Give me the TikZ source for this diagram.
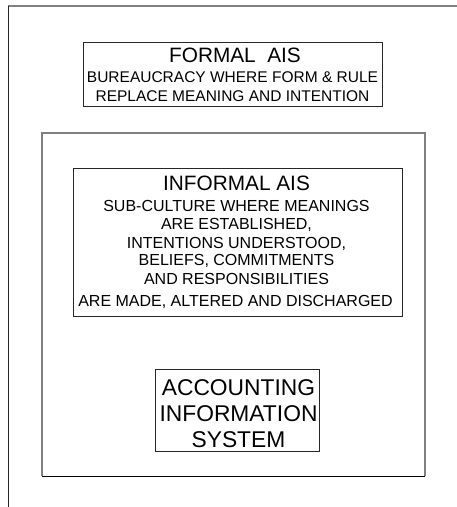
\documentclass[tikz,border=0pt]{standalone}
\usepackage{fontspec}
\setmainfont{Liberation Sans}
\begin{document}
\begin{tikzpicture}[x=1pt,y=-1pt,
  frameline/.style={line width=1.5pt,draw=black!50},
  boxline/.style={line width=0.9pt,draw=black!85},
  boxnode/.style={boxline,rectangle,inner sep=0pt,anchor=north west},
  titletext/.style={anchor=base,inner sep=0pt,font=\fontsize{20.8}{24}\selectfont},
  smalltext/.style={anchor=base,inner sep=0pt,font=\fontsize{16}{18}\selectfont},
  formaltext/.style={smalltext,font=\fontsize{15.5}{18}\selectfont},
  bigtext/.style={anchor=base,inner sep=0pt,font=\fontsize{22.8}{26}\selectfont}]
\useasboundingbox (0,0) rectangle (457,507);
% outer frame: top rule and left rule
\coordinate (tl) at (8,6);
\coordinate (tr) at (457,6);
\coordinate (bl) at (8,507);
\draw[frameline] (tl) -- (tr);
\draw[line width=1pt,black!85] (tl) -- (bl);
% enclosing box for informal AIS and the AIS
\coordinate (mtl) at (42,133);
\coordinate (mtr) at (425,133);
\coordinate (mbl) at (42,476);
\coordinate (mbr) at (425,476);
\draw[frameline] (mbl) -- (mtl) -- (mtr) -- (mbr);
\draw[line width=0.9pt,black] (mbl) -- (mbr);
% formal AIS
\node[boxnode,minimum width=299pt,minimum height=63.5pt] (formal) at (83,42) {};
\node[titletext] (formalT) at (235,62.5) {FORMAL\ \ AIS};
\node[formaltext] (formal1) at (232.5,82) {BUREAUCRACY WHERE FORM \& RULE};
\node[formaltext] (formal2) at (232.5,101.5) {REPLACE MEANING AND INTENTION};
% informal AIS
\node[boxnode,minimum width=329pt,minimum height=148pt] (informal) at (73,168) {};
\node[titletext] (informalT) at (236.5,190.7) {INFORMAL AIS};
\node[smalltext] (inf1) at (236.5,211.7) {SUB-CULTURE WHERE MEANINGS};
\node[smalltext] (inf2) at (236.5,229.8) {ARE ESTABLISHED,};
\node[smalltext] (inf3) at (236.5,248) {INTENTIONS UNDERSTOOD,};
\node[smalltext] (inf4) at (236.5,265.9) {BELIEFS, COMMITMENTS};
\node[smalltext] (inf5) at (236.5,284) {AND RESPONSIBILITIES};
\node[smalltext] (inf6) at (235.5,306.7) {ARE MADE, ALTERED AND DISCHARGED};
% accounting information system
\node[boxnode,minimum width=164pt,minimum height=82pt] (ais) at (155,369) {};
\node[bigtext] (ais1) at (238.5,395) {ACCOUNTING};
\node[bigtext] (ais2) at (238.5,421.5) {INFORMATION};
\node[bigtext] (ais3) at (238.5,447) {SYSTEM};
\end{tikzpicture}
\end{document}
